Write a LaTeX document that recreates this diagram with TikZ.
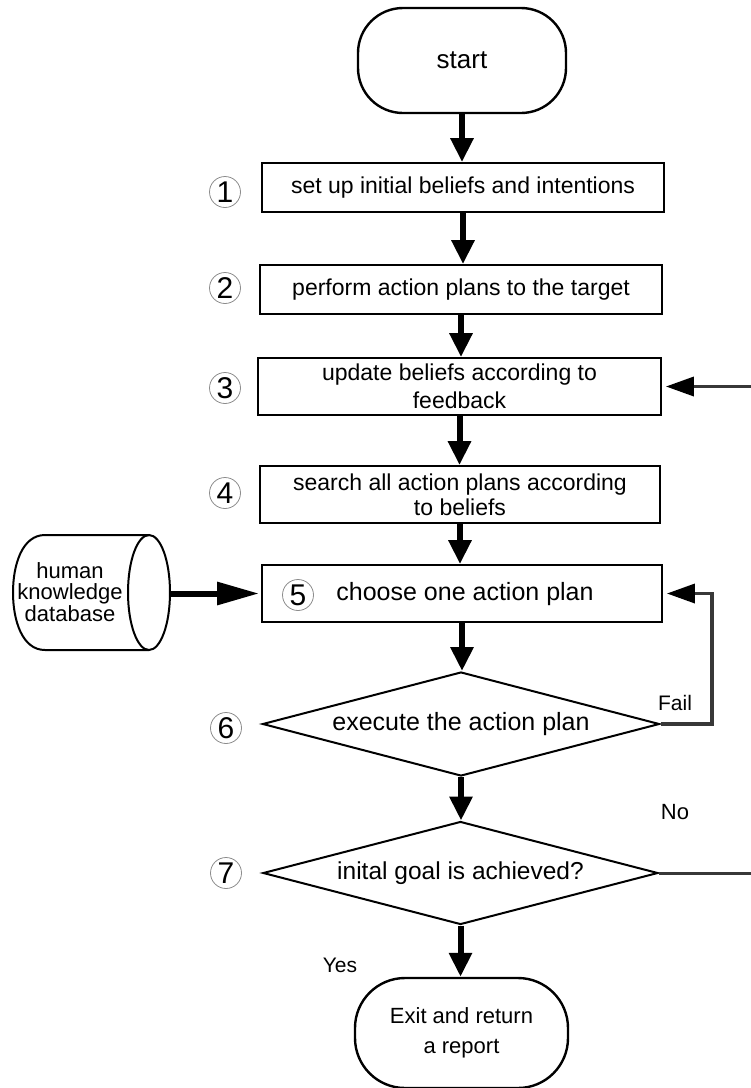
\documentclass[tikz,border=0pt]{standalone}
\usepackage{fontspec}
\setmainfont{Liberation Sans}
\usetikzlibrary{shapes.geometric,arrows.meta,calc}

\begin{document}
\begin{tikzpicture}[x=1pt,y=-1pt,
  every node/.style={font=\fontsize{23}{28}\selectfont},
  stepbox/.style={draw, line width=1.8pt, inner sep=0pt, align=center, fill=white},
  term/.style={draw, line width=2.4pt, inner sep=0pt, align=center},
  decision/.style={diamond, draw, line width=2pt, inner sep=0pt, aspect=3.8},
  numc/.style={circle, draw=black!45, line width=0.8pt, minimum size=31pt,
    inner sep=0pt, font=\fontsize{30}{30}\selectfont},
  flow/.style={line width=6pt, -{Triangle[length=24pt,width=22pt]}},
  back/.style={line width=3.5pt, draw=black!78,
    -{Triangle[length=28pt,width=19pt,color=black]}, shorten >=4pt},
  plainline/.style={line width=3pt, draw=black!78},
  lbl/.style={font=\fontsize{21}{24}\selectfont},
  ]
\useasboundingbox (0,0) rectangle (751,1088);

% main chain of steps
\node[term, rounded corners=45pt, minimum width=208pt, minimum height=105pt,
  font=\fontsize{26}{30}\selectfont] (start) at (462,60.5) {start};
\node[stepbox, minimum width=402pt, minimum height=49pt] (b1) at (463,187.5)
  {set up initial beliefs and intentions};
\node[stepbox, minimum width=402pt, minimum height=49pt] (b2) at (461,289.5)
  {perform action plans to the target};
\node[stepbox, minimum width=403pt, minimum height=57pt] (b3) at (459.5,386.5)
  {update beliefs according to\\feedback};
\node[stepbox, minimum width=400pt, minimum height=57pt,
  font=\fontsize{23}{25}\selectfont] (b4) at (460,494.5)
  {search all action plans according\\to beliefs};
\node[stepbox, minimum width=400pt, minimum height=57pt] (b5) at (462,593.5) {};
\node[font=\fontsize{25}{28}\selectfont] (t5) at (465,594) {choose one action plan};
\node[decision, minimum width=397pt, minimum height=104pt,
  font=\fontsize{25}{28}\selectfont] (d6) at (461,724) {execute the action plan};
\node[decision, minimum width=395pt, minimum height=103pt,
  font=\fontsize{24.5}{28}\selectfont] (d7) at (460.5,873) {inital goal is achieved?};
\node[term, rounded corners=50pt, minimum width=213pt, minimum height=110pt,
  font=\fontsize{22}{30}\selectfont] (exit) at (461.5,1033) {Exit and return\\a report};

% step numbers
\node[numc] (n1) at (225,192) {1};
\node[numc] (n2) at (225,288) {2};
\node[numc] (n3) at (225,388) {3};
\node[numc] (n4) at (225,493) {4};
\node[numc] (n5) at (298,595) {5};
\node[numc] (n6) at (226,728) {6};
\node[numc] (n7) at (226,873) {7};

% knowledge store
\draw[line width=2pt, fill=white] (149,535) -- (45,535)
  .. controls (22,535) and (13,565) .. (13,592.5)
  .. controls (13,620) and (22,650) .. (45,650) -- (149,650);
\draw[line width=2pt] (149,592.5) ellipse [x radius=21, y radius=57.5];
\node[align=center, font=\fontsize{22}{21.5}\selectfont] (db) at (70,592)
  {human\\knowledge\\database};
\coordinate (dbR) at (170,593.5);

% flow arrows
\draw[flow] (start.south) -- (start.south |- b1.north);
\draw[flow] (b1.south) -- (b1.south |- b2.north);
\draw[flow] (b2.south) -- (b2.south |- b3.north);
\draw[flow] (b3.south) -- (b3.south |- b4.north);
\draw[flow] (b4.south) -- (b4.south |- b5.north);
\draw[flow] (b5.south) -- (b5.south |- d6.north);
\draw[flow] (d6.south) -- (d6.south |- d7.north);
\draw[flow] (d7.south) -- (d7.south |- exit.north);

\draw[line width=6pt, -{Triangle[length=42pt,width=22pt]}, shorten >=2pt]
  (dbR) -- (b5.west);

% loops back
\coordinate (failc) at (712,724);
\draw[back] (d6.east) -- (failc) |- (b5.east);
\coordinate (fbin) at (751,386.5);
\draw[back] (fbin) -- (b3.east);
\coordinate (noend) at (751,873);
\draw[plainline] (d7.east) -- (noend);

% branch labels
\node[lbl] (fail) at (675,703) {Fail};
\node[lbl, font=\fontsize{22}{24}\selectfont] (no) at (675,812) {No};
\node[lbl] (yes) at (340,965) {Yes};
\end{tikzpicture}
\end{document}
